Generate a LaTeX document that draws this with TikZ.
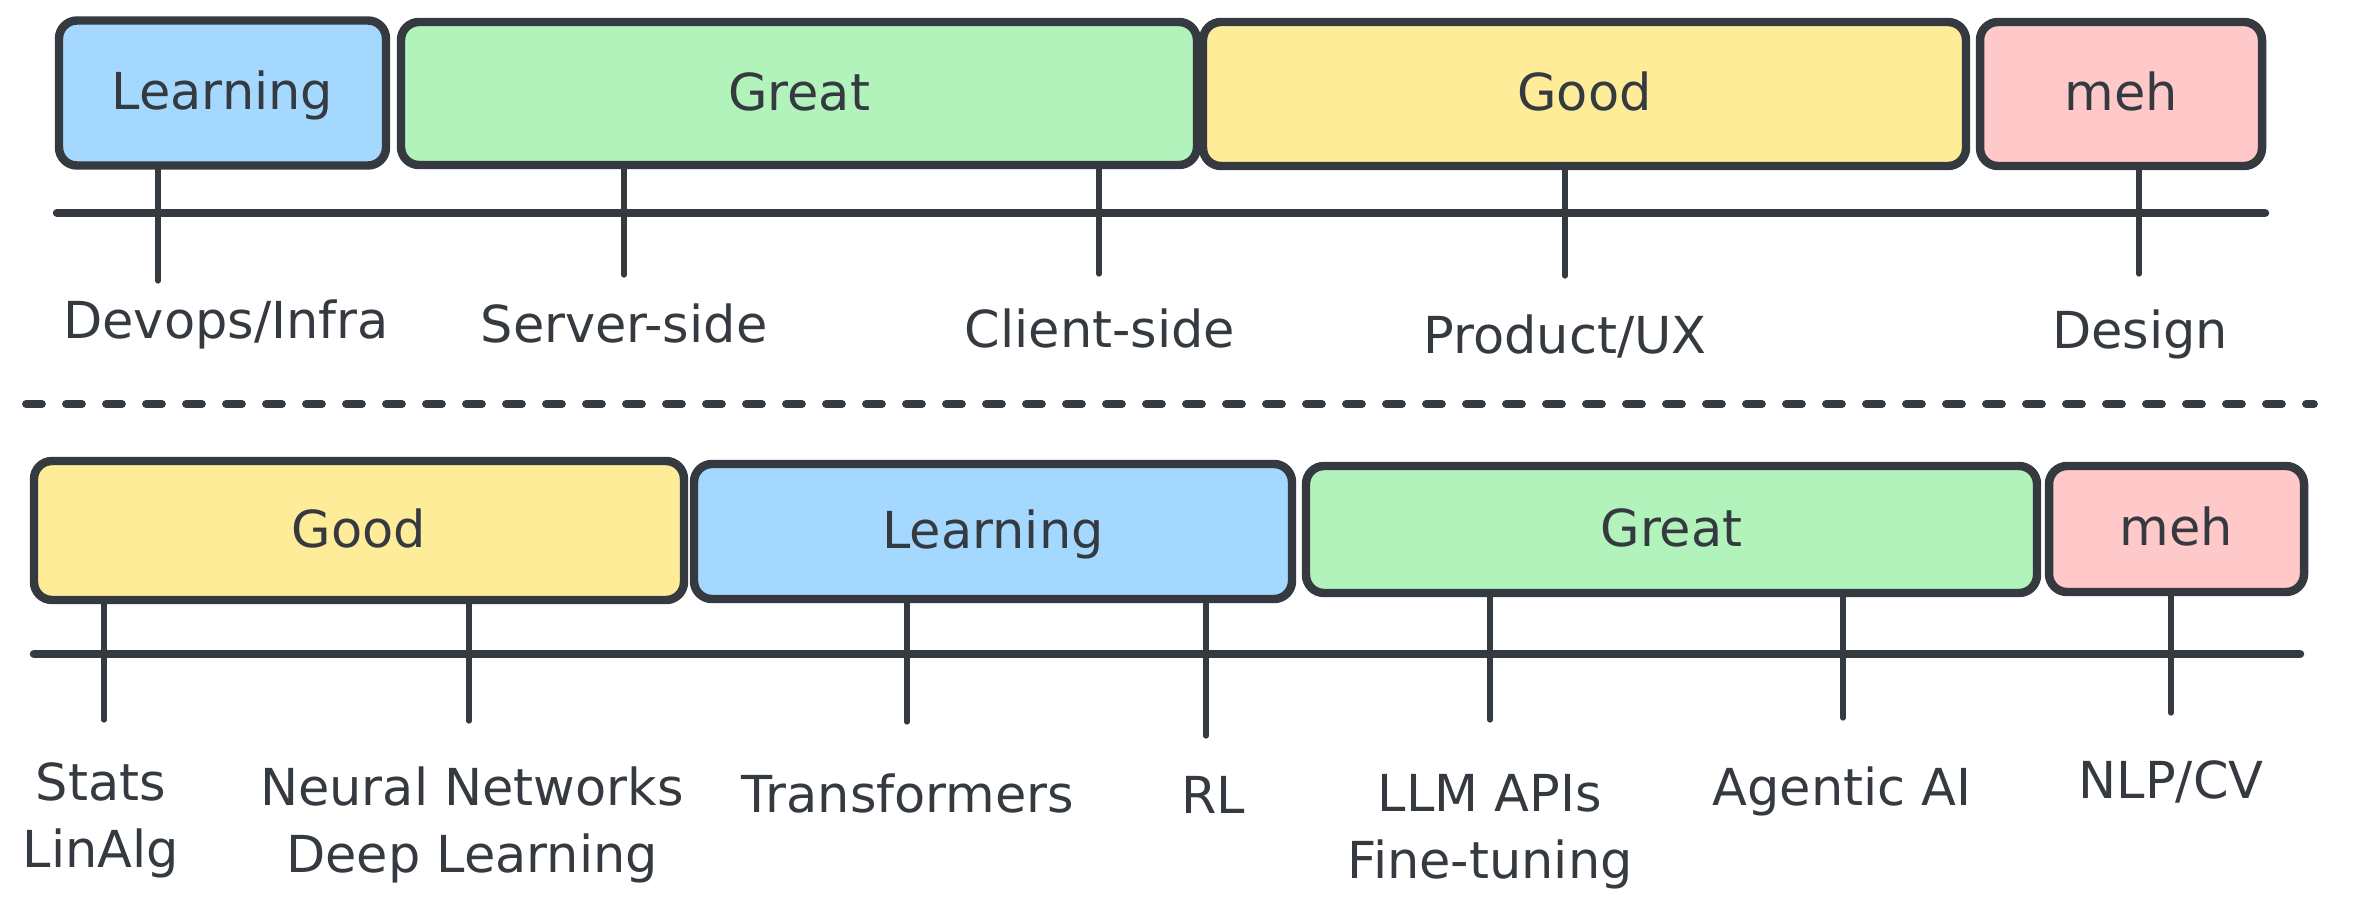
\documentclass[tikz,border=0pt]{standalone}
\usepackage{fontspec}
\setmainfont{DejaVu Sans}
\definecolor{ink}{HTML}{343A40}
\definecolor{learnfill}{HTML}{A5D8FF}
\definecolor{greatfill}{HTML}{B2F2BB}
\definecolor{goodfill}{HTML}{FFEC99}
\definecolor{mehfill}{HTML}{FFC9C9}
\begin{document}
\begin{tikzpicture}[x=0.1mm, y=-0.1mm,
	band/.style={draw=ink, line width=2.4pt, rounded corners=1.8mm, text=ink, font=\fontsize{14.5}{19}\selectfont, text height=10.5pt, text depth=1pt, inner sep=0pt},
	lbl/.style={text=ink, font=\fontsize{14.5}{19}\selectfont, align=center, inner sep=0pt},
	rail/.style={draw=ink, line width=2.4pt, line cap=round},
	stem/.style={draw=ink, line width=1.5pt, line cap=round},
	sep/.style={draw=ink, line width=2.2pt, line cap=round, dash pattern=on 1.6mm off 2.4mm}]
	\useasboundingbox (0,0) rectangle (2354,914);
	\node[band, fill=learnfill, minimum width=32.7mm, minimum height=14.5mm] (lrnA) at (222.5,93) {Learning};
	\node[band, fill=greatfill, minimum width=79.6mm, minimum height=14.3mm] (grtA) at (799,93.5) {Great};
	\node[band, fill=goodfill, minimum width=76.3mm, minimum height=14.4mm] (goodA) at (1584.5,94) {Good};
	\node[band, fill=mehfill, minimum width=28.2mm, minimum height=14.4mm] (mehA) at (2121,94) {meh};
	\coordinate (railAl) at (57,213);
	\coordinate (railAr) at (2265,213);
	\draw[rail] (railAl) -- (railAr);
	\coordinate (tDevops) at (158,281);
	\coordinate (tServer) at (624,275);
	\coordinate (tClient) at (1099,274);
	\coordinate (tProduct) at (1565,276);
	\coordinate (tDesign) at (2139,274);
	\draw[stem] (tDevops |- lrnA.south) -- (tDevops);
	\draw[stem] (tServer |- grtA.south) -- (tServer);
	\draw[stem] (tClient |- grtA.south) -- (tClient);
	\draw[stem] (tProduct |- goodA.south) -- (tProduct);
	\draw[stem] (tDesign |- mehA.south) -- (tDesign);
	\node[lbl, anchor=base] (devops) at (226,338) {Devops/Infra};
	\node[lbl, anchor=base] (server) at (624,342) {Server-side};
	\node[lbl, anchor=base] (client) at (1100,347) {Client-side};
	\node[lbl, anchor=base] (product) at (1565,353) {Product/UX};
	\node[lbl, anchor=base] (design) at (2140,348) {Design};
	\coordinate (sepL) at (26,404);
	\coordinate (sepR) at (2314,404);
	\draw[sep] (sepL) -- (sepR);
	\node[band, fill=goodfill, minimum width=65mm, minimum height=13.9mm] (goodB) at (359,530.5) {Good};
	\node[band, fill=learnfill, minimum width=59.8mm, minimum height=13.5mm] (lrnB) at (993,531.5) {Learning};
	\node[band, fill=greatfill, minimum width=73.1mm, minimum height=12.7mm] (grtB) at (1671.5,529.5) {Great};
	\node[band, fill=mehfill, minimum width=25.5mm, minimum height=12.6mm] (mehB) at (2176.5,529) {meh};
	\coordinate (railBl) at (34,654);
	\coordinate (railBr) at (2300,654);
	\draw[rail] (railBl) -- (railBr);
	\coordinate (tStats) at (104,720);
	\coordinate (tNeural) at (469,721);
	\coordinate (tTrans) at (907,722);
	\coordinate (tRL) at (1206,736);
	\coordinate (tLLM) at (1490,720);
	\coordinate (tAgent) at (1843,718);
	\coordinate (tNLP) at (2171,713);
	\draw[stem] (tStats |- goodB.south) -- (tStats);
	\draw[stem] (tNeural |- goodB.south) -- (tNeural);
	\draw[stem] (tTrans |- lrnB.south) -- (tTrans);
	\draw[stem] (tRL |- lrnB.south) -- (tRL);
	\draw[stem] (tLLM |- grtB.south) -- (tLLM);
	\draw[stem] (tAgent |- grtB.south) -- (tAgent);
	\draw[stem] (tNLP |- mehB.south) -- (tNLP);
	\node[lbl] (stats) at (101,820) {Stats\\LinAlg};
	\node[lbl] (neural) at (472,825) {Neural Networks\\Deep Learning};
	\node[lbl, anchor=base] (trans) at (908,812) {Transformers};
	\node[lbl, anchor=base] (rl) at (1213,813) {RL};
	\node[lbl] (llm) at (1490,832) {LLM APIs\\Fine-tuning};
	\node[lbl, anchor=base] (agent) at (1842,805) {Agentic AI};
	\node[lbl, anchor=base] (nlp) at (2171,798) {NLP/CV};
\end{tikzpicture}
\end{document}
